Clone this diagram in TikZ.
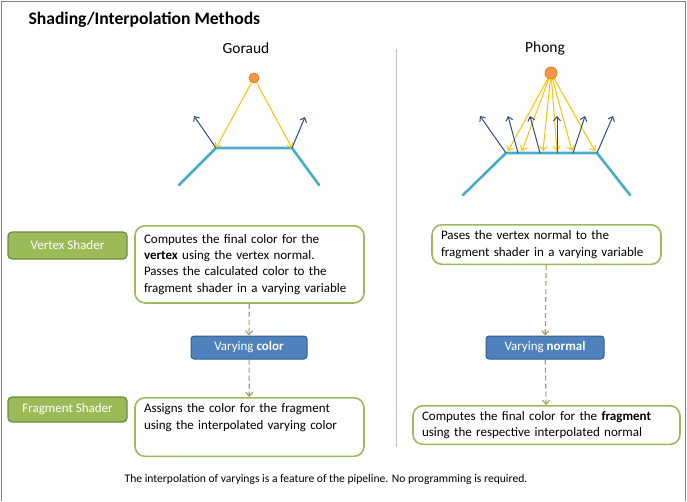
\documentclass[tikz,border=0pt]{standalone}
\usepackage{fontspec}
\setmainfont{Carlito}
\usetikzlibrary{arrows.meta}

\definecolor{shadergreen}{HTML}{9BBB59}
\definecolor{shaderedge}{HTML}{71893F}
\definecolor{varyblue}{HTML}{4F81BD}
\definecolor{varyedge}{HTML}{385D8A}
\definecolor{surfcyan}{HTML}{4BACC6}
\definecolor{rayyellow}{HTML}{FFC000}
\definecolor{normalnavy}{HTML}{2C4D8A}
\definecolor{lightorange}{HTML}{F79646}
\definecolor{lightedge}{HTML}{E46C0A}
\definecolor{flowtan}{HTML}{A69A62}

\tikzset{
  shaderbox/.style={draw=shaderedge, fill=shadergreen, line width=1.2pt, rounded corners=4pt,
    text=white, minimum width=119pt, font=\fontsize{13}{15}\selectfont},
  notebox/.style={draw=shadergreen, line width=1.6pt, rounded corners=10pt, fill=white,
    align=left, inner xsep=9pt, font=\fontsize{13}{16.3}\selectfont},
  varybox/.style={draw=varyedge, fill=varyblue, line width=1pt, rounded corners=3pt,
    text=white, minimum height=23pt, font=\fontsize{13}{15}\selectfont},
  flow/.style={draw=flowtan, line width=1.1pt, dash pattern=on 5pt off 3pt,
    -{Straight Barb[length=4pt,width=7pt]}},
  surface/.style={surfcyan, line width=2.6pt, line cap=round},
  ray/.style={rayyellow, line width=1pt, -{Straight Barb[length=4pt,width=7pt]}},
  normal/.style={normalnavy, line width=1pt, -{Straight Barb[length=4pt,width=7pt]}},
  lamp/.style={circle, draw=lightedge, fill=lightorange, line width=0.6pt, inner sep=0pt}
}

\begin{document}
\begin{tikzpicture}[x=1pt, y=-1pt]
    \useasboundingbox (0,0) rectangle (687,501);

    % Frame and separator
    \draw[gray, line width=1.5pt] (1.5,501) -- (1.5,1.5) -- (685.5,1.5) -- (685.5,501);
    \draw[black!25, line width=0.8pt] (396,49) -- (396,447);

    % Titles
    \node[anchor=west, font=\fontsize{17.6}{20}\selectfont\bfseries] (title) at (25,20) {Shading/Interpolation Methods};
    \node[font=\fontsize{15.5}{18}\selectfont] (goraud) at (246,48) {Goraud};
    \node[font=\fontsize{15.5}{18}\selectfont] (phong) at (545,48) {Phong};

    % Goraud: surface, light and normals
    \coordinate (gL) at (179,185);
    \coordinate (gA) at (216,148);
    \coordinate (gB) at (292,148);
    \coordinate (gR) at (319,185);
    \draw[surface] (gL) -- (gA) -- (gB) -- (gR);
    \node[lamp, minimum size=10pt] (glamp) at (254,78) {};
    \draw[ray] (glamp) -- (gA);
    \draw[ray] (glamp) -- (gB);
    \coordinate (gnA) at (194,116);
    \coordinate (gnB) at (305,117);
    \draw[normal] (gA) -- (gnA);
    \draw[normal] (gB) -- (gnB);

    % Phong: surface, light and normals
    \coordinate (pL) at (463,195);
    \coordinate (pA) at (506,153);
    \coordinate (pB) at (597,153);
    \coordinate (pR) at (630,195);
    \draw[surface] (pL) -- (pA) -- (pB) -- (pR);
    \node[lamp, minimum size=12pt] (plamp) at (551,73) {};
    \foreach \x in {508,522,543,557,572,595}
      \draw[ray] (plamp) -- (\x,151);
    \foreach \x/\t [count=\i] in {506/480,518/508,540/530,557/557,573/585,597/613} {
      \coordinate (pn\i) at (\x,153);
      \draw[normal] (pn\i) -- (\t,116);
    }

    % Shader labels
    \node[shaderbox, minimum height=27pt] (vs) at (67.5,245.5) {Vertex Shader};
    \node[shaderbox, minimum height=25pt] (fs) at (67.5,409.5) {Fragment Shader};

    % Goraud pipeline
    \node[notebox, text width=211pt, inner ysep=8.5pt, anchor=north] (gv) at (249.5,225)
      {Computes the final color for the\\ \textbf{vertex} using the vertex normal.\\
       Passes the calculated color to the\\ fragment shader in a varying variable};
    \node[varybox, minimum width=116pt] (gvary) at (249,347.5) {Varying \textbf{color}};
    \node[notebox, text width=211pt, inner ysep=6pt, anchor=north] (gf) at (249.5,397)
      {Assigns the color for the fragment\\ using the interpolated varying color\\ \strut};
    \draw[flow] (gv) -- (gvary);
    \draw[flow] (gvary) -- (gf);

    % Phong pipeline
    \node[notebox, text width=211pt, inner ysep=6pt, anchor=north] (pv) at (546.5,224)
      {Pases the vertex normal to the\\ fragment shader in a varying variable};
    \node[varybox, minimum width=118pt] (pvary) at (545,347.5) {Varying \textbf{normal}};
    \node[notebox, text width=249pt, inner ysep=5.5pt, anchor=north] (pf) at (546.5,405)
      {Computes the final color for the \textbf{fragment}\\ using the respective interpolated normal};
    \draw[flow] (pv) -- (pvary);
    \draw[flow] (pvary) -- (pf);

    % Footer
    \node[font=\fontsize{11.6}{13}\selectfont] (note) at (326,479)
      {The interpolation of varyings is a feature of the pipeline. No programming is required.};
\end{tikzpicture}
\end{document}
